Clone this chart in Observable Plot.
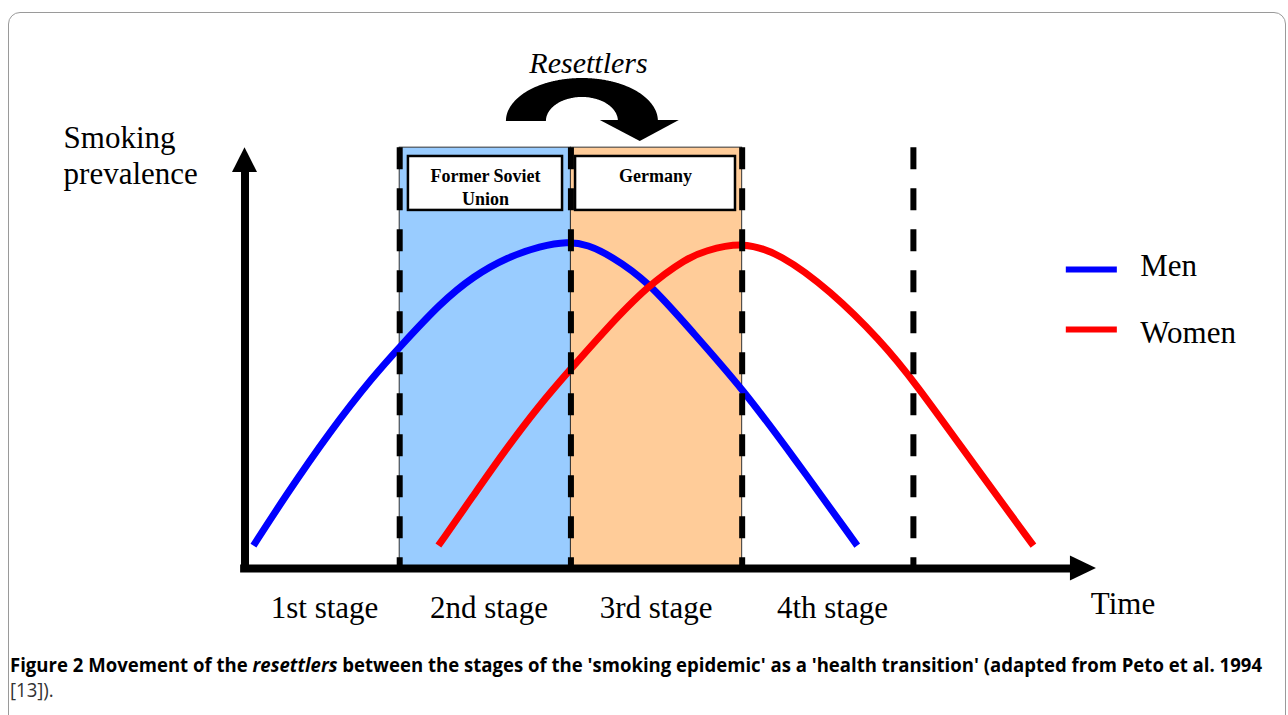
<!DOCTYPE html>
<html>
<head>
<meta charset="utf-8">
<script src="https://cdn.jsdelivr.net/npm/d3@7"></script>
<script src="https://cdn.jsdelivr.net/npm/@observablehq/plot@0.6"></script>
<style>
  html, body { margin: 0; padding: 0; background: white; overflow: hidden; }
  #wrap { position: relative; width: 1288px; height: 715px; overflow: hidden; background: white; }
  #chart { position: absolute; left: 0; top: 0; }
  #frame { position: absolute; left: 8px; top: 12px; width: 1276px; height: 760px; border: 1.5px solid #9a9a9a; border-radius: 12px; pointer-events: none; }
  #caption { position: absolute; left: 10px; top: 652px; font-family: "Open Sans", "Noto Sans", sans-serif; font-size: 20px; line-height: 25px; white-space: nowrap; color: #000; }
  #caption .l { transform-origin: 0 50%; display: inline-block; }
  #l2 { color: #333; font-weight: 400; }
</style>
</head>
<body>
<div id="wrap">
  <div id="chart"></div>
  <div id="frame"></div>
  <div id="caption">
    <div><span class="l" id="l1"><b>Figure 2 Movement of the <i>resettlers</i> between the stages of the 'smoking epidemic' as a 'health transition' (adapted from Peto et al. 1994</b></span></div>
    <div><span class="l" id="l2">[13]).</span></div>
  </div>
</div>
<script>
// ---- Data (time t in "stage" units, prevalence p relative to peak = 1) ----
const stageBoundaries = [1, 2, 3, 4];
const stageLabels = ["1st stage", "2nd stage", "3rd stage", "4th stage"];
const stageLabelT = [0.561, 1.521, 2.497, 3.527];

const menT = [0.146, 0.324, 0.596, 0.849, 1.005, 1.238, 1.433, 1.628, 1.822, 1.98, 2.10, 2.23, 2.446, 2.718, 3.002, 3.301, 3.672];
const menP = [0.070, 0.215, 0.422, 0.590, 0.680, 0.812, 0.895, 0.952, 0.986, 1.0, 0.990, 0.957, 0.881, 0.718, 0.550, 0.340, 0.070];

const womenT = [1.226, 1.433, 1.606, 1.822, 1.992, 2.192, 2.447, 2.680, 2.776, 3.0, 3.222, 3.514, 3.808, 4.001, 4.391, 4.701];
const womenP = [0.070, 0.225, 0.355, 0.504, 0.606, 0.725, 0.865, 0.950, 0.970, 1.0, 0.963, 0.850, 0.697, 0.575, 0.291, 0.070];

const regionNames = ["Former Soviet\nUnion", "Germany"];
const regionFrom = [1, 2];
const regionTo = [2, 3];
const panelTop = 1.287;

const legendNames = ["Men", "Women"];
const legendColors = ["#0000FF", "#FF0000"];
const legendP = [0.914, 0.731];

// ---- Build tables ----
const men = menT.map((t, i) => ({t, p: menP[i]}));
const women = womenT.map((t, i) => ({t, p: womenP[i]}));
const stages = stageLabels.map((label, i) => ({label, t: stageLabelT[i]}));
const regions = regionNames.map((name, i) => ({name, from: regionFrom[i], to: regionTo[i]}));

// label boxes inside the panels
const boxInsetL = [0.051, 0.027], boxInsetR = [0.049, 0.039];
const boxes = regions.map((r, i) => ({x1: r.from + boxInsetL[i], x2: r.to - boxInsetR[i], y1: 1.095, y2: 1.260}));
const boxText = [
  {t: 1.501, p: 1.199, s: "Former Soviet"},
  {t: 1.501, p: 1.130, s: "Union"},
  {t: 2.494, p: 1.199, s: "Germany"}
];

// axes
const axisT = 0.0966;
const vHead = [{p: 1.211, a: axisT - 0.073, b: axisT + 0.073}, {p: 1.287, a: axisT, b: axisT}];
const hHead = [{t: 4.917, a: -0.038, b: 0.038}, {t: 5.069, a: 0, b: 0}];

// curved "Resettlers" arrow (band between two half-ellipses)
const arcC = 2.067, arcBase = 1.367, rxo = 0.4438, ryo = 0.1315, rxi = 0.2102, ryi = 0.0734;
const xs = [];
for (let k = 0; k <= 90; k++) {
  const th = Math.PI * k / 90;
  xs.push(arcC - rxo * Math.cos(th));
  xs.push(arcC - rxi * Math.cos(th));
}
xs.sort((a, b) => a - b);
const band = xs.map(x => {
  const dx = x - arcC;
  const hi = arcBase + ryo * Math.sqrt(Math.max(0, 1 - (dx / rxo) ** 2));
  const lo = Math.abs(dx) <= rxi ? arcBase + ryi * Math.sqrt(Math.max(0, 1 - (dx / rxi) ** 2)) : arcBase;
  return {t: x, lo, hi};
});
const arrowHead = [{t: 2.1717, a: 1.370, b: 1.370}, {t: 2.405, a: 1.306, b: 1.370}, {t: 2.633, a: 1.370, b: 1.370}];

const legend = legendNames.map((name, i) => ({name, color: legendColors[i], p: legendP[i]}));

const serif = "Liberation Serif, 'Times New Roman', serif";

const chart = Plot.plot({
  width: 1288,
  height: 640,
  margin: 0,
  x: {domain: [1, 4], range: [399.2, 912.9], axis: null},
  y: {domain: [0, 1], range: [568, 241], axis: null},
  style: {fontFamily: serif, background: "white", overflow: "visible"},
  marks: [
    Plot.rect([regions[0]], {x1: "from", x2: "to", y1: 0, y2: panelTop, fill: "#99CCFF", stroke: "#333", strokeWidth: 1}),
    Plot.rect([regions[1]], {x1: "from", x2: "to", y1: 0, y2: panelTop, fill: "#FFCC99", stroke: "#333", strokeWidth: 1}),
    Plot.line(men, {x: "t", y: "p", stroke: "#0000FF", strokeWidth: 7, curve: "basis", strokeLinecap: "butt"}),
    Plot.line(women, {x: "t", y: "p", stroke: "#FF0000", strokeWidth: 7, curve: "basis", strokeLinecap: "butt"}),
    Plot.ruleX(stageBoundaries, {x: d => d, y1: panelTop, y2: 0, stroke: "black", strokeWidth: 6, strokeDasharray: "22,19"}),
    Plot.rect(boxes, {x1: "x1", x2: "x2", y1: "y1", y2: "y2", fill: "white", stroke: "black", strokeWidth: 2.5}),
    Plot.text(boxText, {x: "t", y: "p", text: "s", fontSize: 18, fontWeight: "bold", fontFamily: serif}),
    // axes
    Plot.ruleX([axisT], {x: d => d, y1: -0.012, y2: 1.215, stroke: "black", strokeWidth: 8}),
    Plot.ruleY([0], {y: d => d, x1: 0.071, x2: 4.93, stroke: "black", strokeWidth: 8}),
    Plot.areaX(vHead, {y: "p", x1: "a", x2: "b", fill: "black"}),
    Plot.areaY(hHead, {x: "t", y1: "a", y2: "b", fill: "black"}),
    // resettlers arrow
    Plot.areaY(band, {x: "t", y1: "lo", y2: "hi", fill: "black"}),
    Plot.areaY(arrowHead, {x: "t", y1: "a", y2: "b", fill: "black"}),
    Plot.text(["Resettlers"], {x: 2.1025, y: 1.546, text: d => d, fontSize: 30, fontStyle: "italic", fontFamily: serif}),
    // axis titles
    Plot.text(["Smoking", "prevalence"], {x: -0.963, y: (d, i) => [1.317, 1.207][i], text: d => d, fontSize: 31, textAnchor: "start", fontFamily: serif}),
    Plot.text(["Time"], {x: 5.224, y: -0.108, text: d => d, fontSize: 31, fontFamily: serif}),
    Plot.text(stages, {x: "t", y: -0.120, text: "label", fontSize: 31, fontFamily: serif}),
    // legend
    Plot.ruleY(legend.slice(0, 1), {y: "p", x1: 4.893, x2: 5.191, stroke: "#0000FF", strokeWidth: 6}),
    Plot.ruleY(legend.slice(1, 2), {y: "p", x1: 4.893, x2: 5.191, stroke: "#FF0000", strokeWidth: 6}),
    Plot.text(legend, {x: 5.325, y: (d, i) => [0.925, 0.720][i], text: "name", fontSize: 31, textAnchor: "start", fontFamily: serif})
  ]
});
document.getElementById("chart").appendChild(chart);

// fit caption line to the reference width
const l1 = document.getElementById("l1"), l2 = document.getElementById("l2");
const w = l1.getBoundingClientRect().width;
const s = 1252 / w;
l1.style.transform = `scaleX(${s})`;
l2.style.transform = `scaleX(${s})`;
</script>
</body>
</html>
